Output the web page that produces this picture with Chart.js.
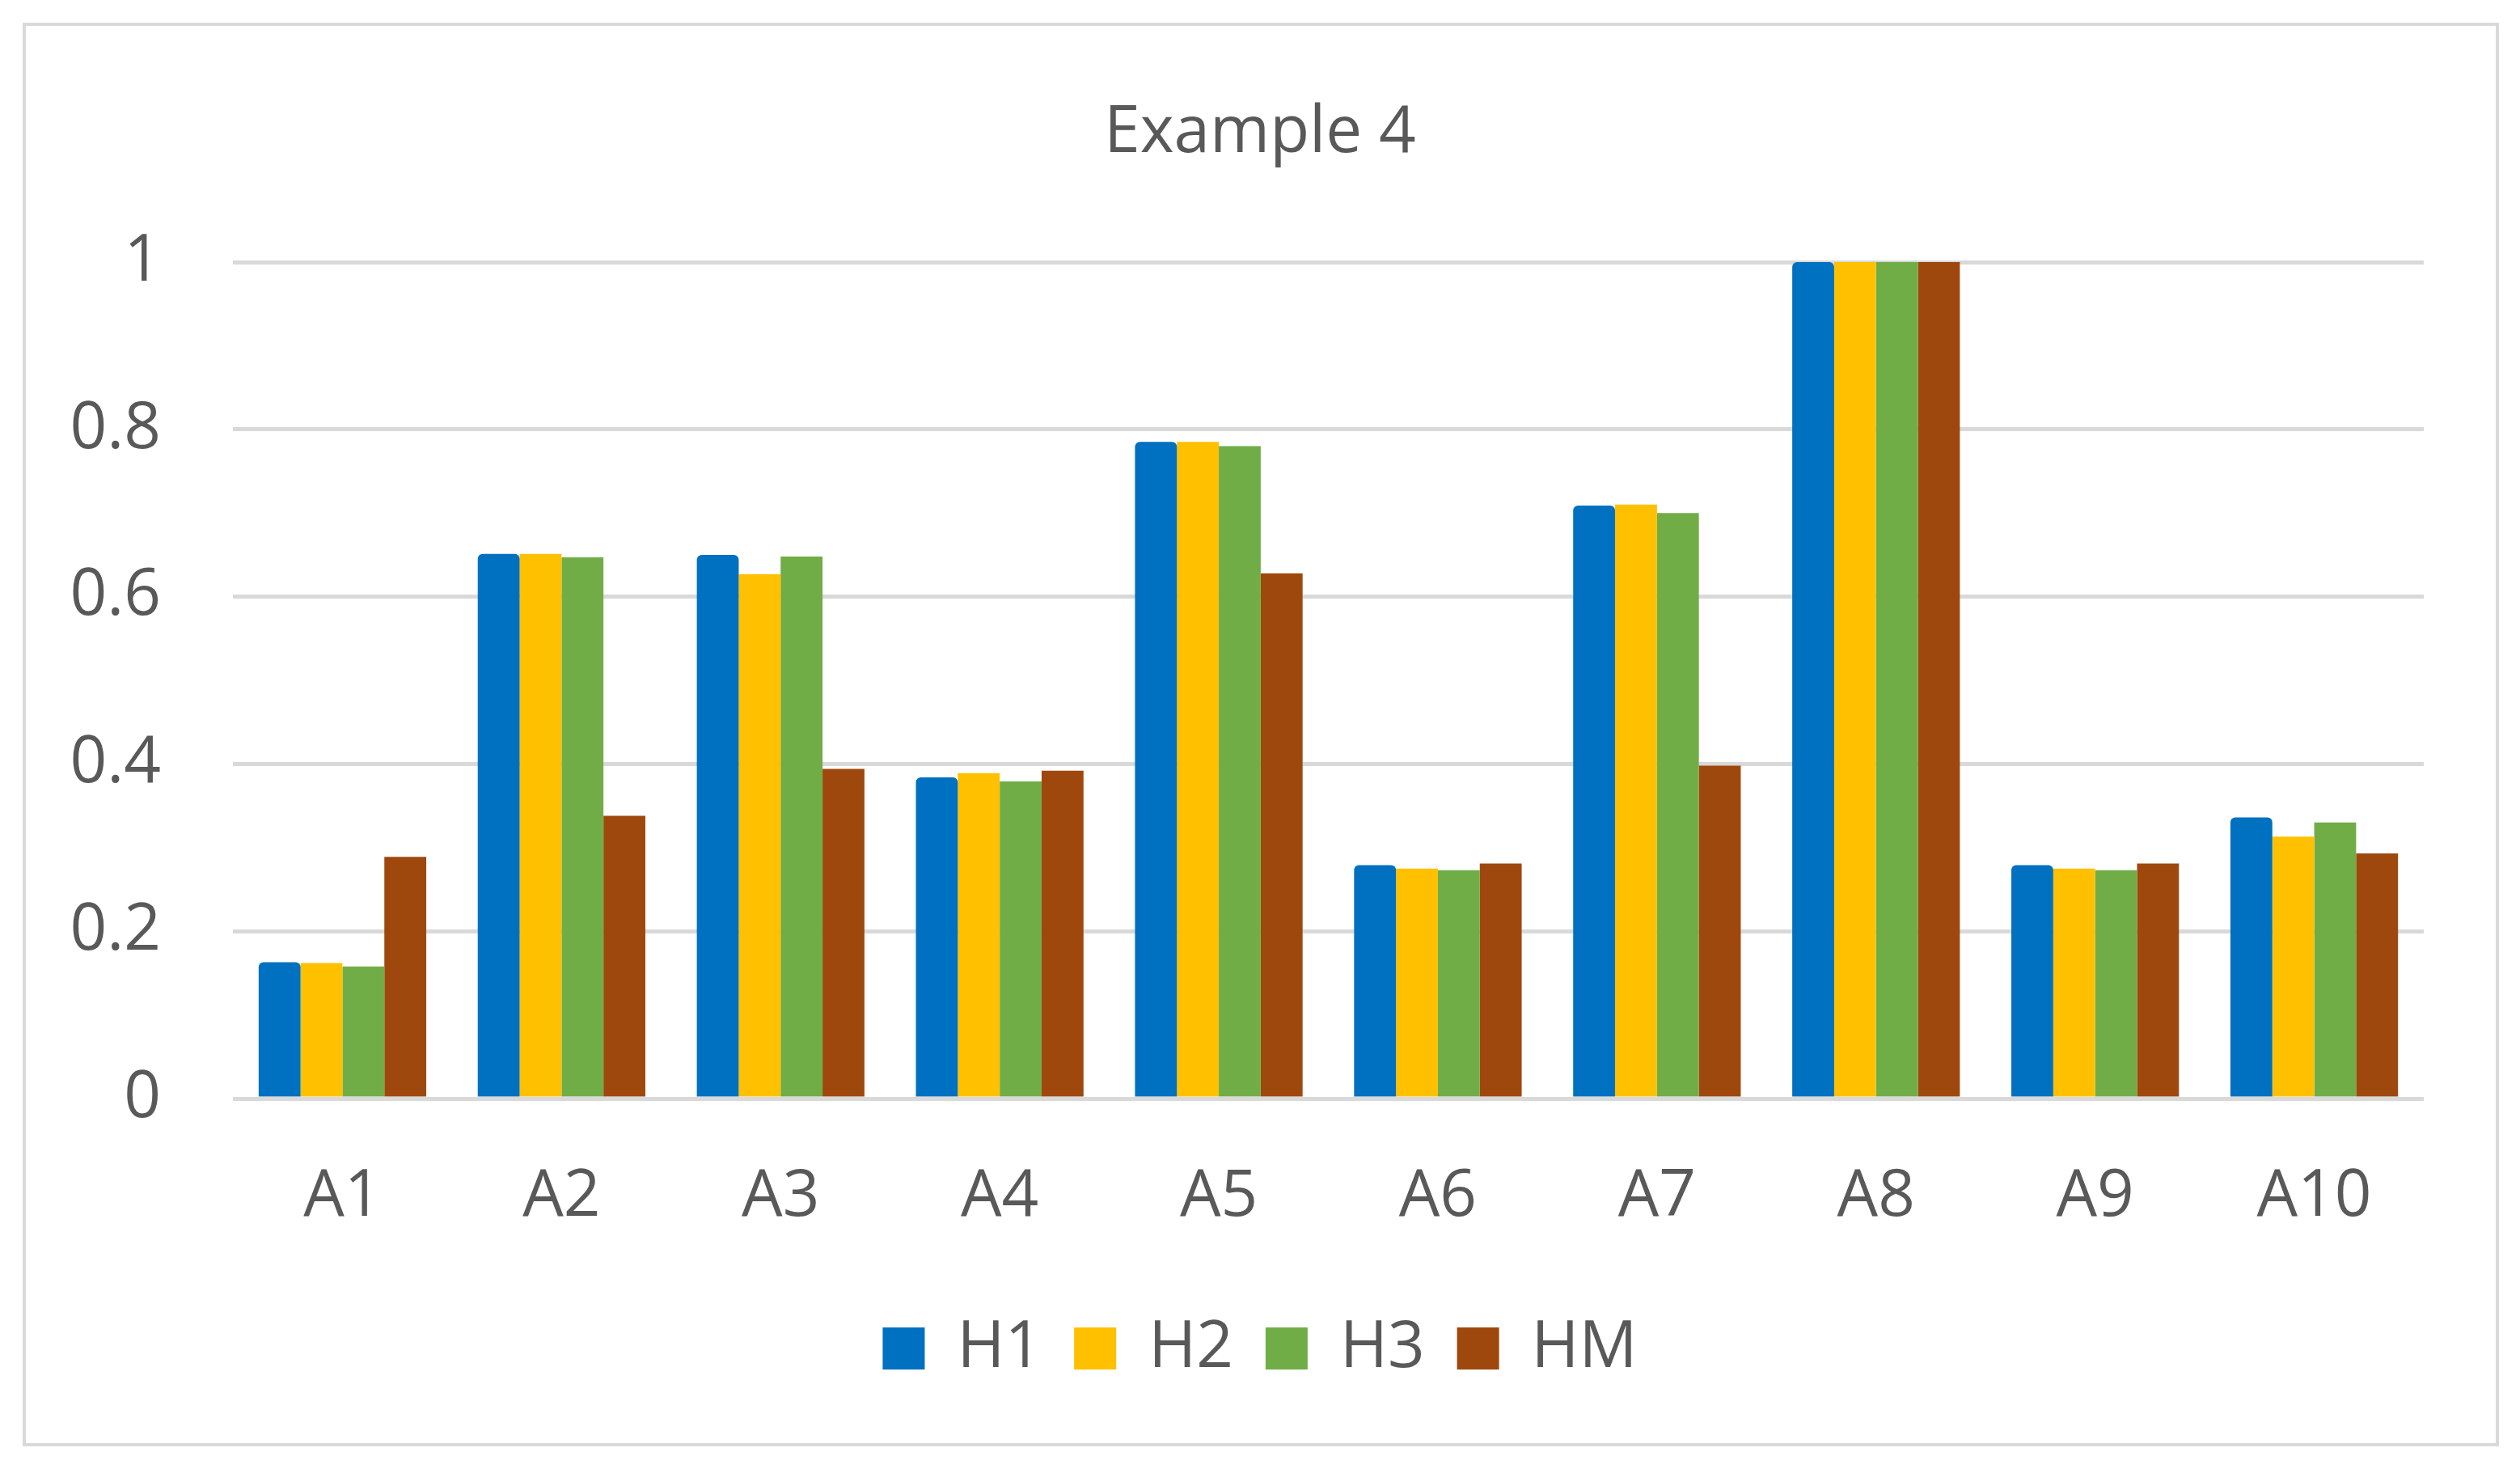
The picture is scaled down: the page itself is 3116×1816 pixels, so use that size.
<!DOCTYPE html>
<html>
<head>
<meta charset="utf-8">
<script src="https://cdn.jsdelivr.net/npm/chart.js@4"></script>
<style>
  html, body { margin: 0; padding: 0; background: #ffffff; }
  #wrap { width: 3116px; height: 1816px; }
</style>
</head>
<body>
<div id="wrap"><canvas id="myChart" width="3116" height="1816"></canvas></div>
<script>
// Chart data
const categories = ["A1", "A2", "A3", "A4", "A5", "A6", "A7", "A8", "A9", "A10"];
const seriesNames = ["H1", "H2", "H3", "HM"];
const h1Values = [0.163, 0.651, 0.650, 0.384, 0.785, 0.279, 0.709, 1.0, 0.279, 0.336];
const h2Values = [0.162, 0.651, 0.627, 0.389, 0.785, 0.275, 0.710, 1.0, 0.275, 0.313];
const h3Values = [0.158, 0.647, 0.648, 0.379, 0.780, 0.273, 0.700, 1.0, 0.273, 0.330];
const hmValues = [0.289, 0.338, 0.394, 0.392, 0.628, 0.281, 0.398, 1.0, 0.281, 0.293];
const yTickLabels = ["0", "0.2", "0.4", "0.6", "0.8", "1"];

const seriesColors = ["#0070C0", "#FFC000", "#70AD47", "#9E480E"];
const textColor = "#595959";
const gridColor = "#D9D9D9";
const fontFamily = "'Open Sans', 'Liberation Sans', sans-serif";

// White background and the light gray frame round the chart
const framePlugin = {
  id: "frame",
  beforeDraw(chart) {
    const c = chart.ctx;
    c.save();
    c.fillStyle = "#ffffff";
    c.fillRect(0, 0, chart.width, chart.height);
    c.strokeStyle = gridColor;
    c.lineWidth = 4;
    c.strokeRect(30, 30, 3058, 1756);
    c.restore();
  },
};

const allValues = [h1Values, h2Values, h3Values, hmValues];
const datasets = seriesNames.map((name, i) => ({
  label: name,
  data: allValues[i],
  backgroundColor: seriesColors[i],
  borderWidth: 0,
  borderRadius: i === 0 ? { topLeft: 6, topRight: 6 } : 0,
  borderSkipped: false,
  categoryPercentage: 0.765,
  barPercentage: 1.0,
}));

const ctx = document.getElementById("myChart");
const chart = new Chart(ctx, {
  type: "bar",
  data: { labels: categories, datasets: datasets },
  plugins: [framePlugin],
  options: {
    responsive: false,
    animation: false,
    devicePixelRatio: 1,
    layout: { padding: { top: 60, left: 31, right: 31, bottom: 99 } },
    plugins: {
      title: {
        display: true,
        text: "Example 4",
        color: textColor,
        font: { family: fontFamily, size: 80, weight: "normal" },
        padding: { top: 57, bottom: 111 },
      },
      legend: {
        position: "bottom",
        labels: {
          color: textColor,
          font: { family: fontFamily, size: 80 },
          boxWidth: 52,
          boxHeight: 52,
          padding: 40,
        },
      },
      tooltip: { enabled: false },
    },
    scales: {
      x: {
        grid: { display: false },
        border: { display: false },
        ticks: {
          color: textColor,
          font: { family: fontFamily, size: 80 },
          padding: 66,
          maxRotation: 0,
        },
        afterFit(scale) {
          scale.height = 229;
        },
      },
      y: {
        min: 0,
        max: 1,
        grid: { color: gridColor, lineWidth: 5, drawTicks: false },
        border: { display: false },
        ticks: {
          stepSize: 0.2,
          color: textColor,
          font: { family: fontFamily, size: 80 },
          padding: 89,
          callback: function (value, index) {
            return yTickLabels[index];
          },
        },
        afterFit(scale) {
          scale.width = 257;
        },
      },
      // empty right margin so title and legend stay centred on the page
      yRight: {
        position: "right",
        min: 0,
        max: 1,
        grid: { display: false, drawTicks: false },
        border: { display: false },
        ticks: { display: false },
        afterFit(scale) {
          scale.width = 88;
        },
      },
    },
  },
});
</script>
</body>
</html>
